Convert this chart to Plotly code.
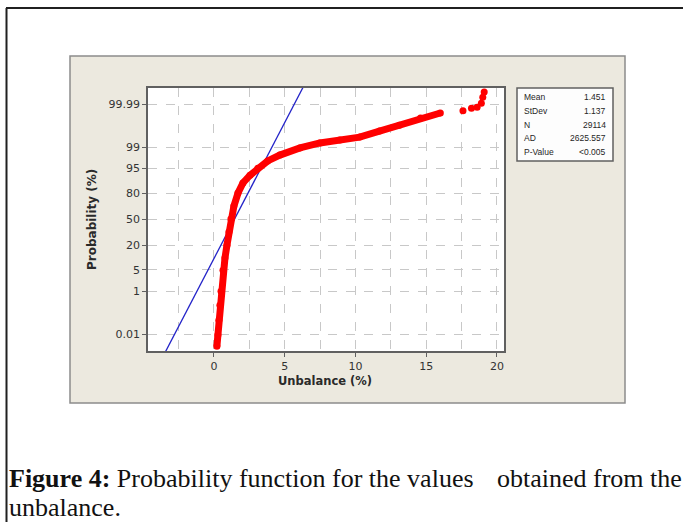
import plotly.graph_objects as go
from statistics import NormalDist

# ---------------- data ----------------
# dense part of the empirical curve: unbalance (%) vs cumulative probability (%)
unbalance_dense = [0.21, 0.28, 0.35, 0.42, 0.50, 0.64, 0.78, 0.92, 1.06, 1.20,
                   1.41, 1.70, 2.05, 2.55, 3.10, 3.80, 4.66, 6.08, 7.49, 8.90,
                   10.3, 11.7, 13.1, 14.6, 16.0]
prob_dense = [0.002, 0.0088, 0.054, 0.27, 0.99, 4.95, 10.4, 20.0, 33.7, 50.0,
              66.3, 80.0, 87.9, 92.2, 95.0, 97.0, 98.08, 98.93, 99.31, 99.48,
              99.60, 99.78, 99.88, 99.946, 99.970]
# isolated upper-tail points
unbalance_tail = [17.6, 18.2, 18.6, 18.9, 19.0, 19.1]
prob_tail = [99.977, 99.983, 99.985, 99.991, 99.996, 99.998]

# fitted normal distribution statistics
stat_labels = ["Mean", "StDev", "N", "AD", "P-Value"]
stat_values = ["1.451", "1.137", "29114", "2625.557", "<0.005"]
fit_mean = 1.451
fit_sd = 1.137

# axis ticks
prob_ticks = [0.01, 1, 5, 20, 50, 80, 95, 99, 99.99]
prob_ticklabels = ["0.01", "1", "5", "20", "50", "80", "95", "99", "99.99"]
x_ticks = [0, 5, 10, 15, 20]

caption_l1a = "<b>Figure 4:</b> Probability function for the values"
caption_l1b = "obtained from the"
caption_l2 = "unbalance."

nd = NormalDist()
def z(p):
    return nd.inv_cdf(p / 100.0)

# ---------------- geometry ----------------
W, H = 683, 522
L, R, T, B = 148, 504, 88, 351          # plot area in pixels
def fx(px):
    return (px - L) / (R - L)
def fy(py):
    return (B - py) / (B - T)

Y_RANGE = [-4.265, 4.24]
X_RANGE = [-4.66, 20.5]

fig = go.Figure()

# fitted line (normal quantile line)
zline = [Y_RANGE[0] - 0.3, Y_RANGE[1] + 0.3]
fig.add_trace(go.Scatter(
    x=[fit_mean + fit_sd * v for v in zline], y=zline, mode="lines",
    line=dict(color="#2323c8", width=1.3), hoverinfo="skip", showlegend=False))

# empirical points
fig.add_trace(go.Scatter(
    x=unbalance_dense, y=[z(p) for p in prob_dense], mode="lines+markers",
    line=dict(color="#ff0000", width=7), marker=dict(color="#ff0000", size=7),
    showlegend=False))
fig.add_trace(go.Scatter(
    x=unbalance_tail, y=[z(p) for p in prob_tail], mode="markers",
    marker=dict(color="#ff0000", size=7), showlegend=False))

shapes = []
# beige panel
shapes.append(dict(type="rect", xref="paper", yref="paper", layer="below",
                   x0=fx(70), x1=fx(625), y0=fy(403), y1=fy(56),
                   fillcolor="#ece9df", line=dict(color="#8c8c8c", width=1.5)))
# white plot area
shapes.append(dict(type="rect", xref="paper", yref="paper", layer="below",
                   x0=0, x1=1, y0=0, y1=1, fillcolor="white", line=dict(width=0)))
# statistics box
shapes.append(dict(type="rect", xref="paper", yref="paper", layer="above",
                   x0=fx(517), x1=fx(613), y0=fy(161), y1=fy(88),
                   fillcolor="#fdfdfd", line=dict(color="#606060", width=1.5)))
# page frame lines
shapes.append(dict(type="line", xref="paper", yref="paper", layer="above",
                   x0=fx(6), x1=fx(683), y0=fy(8), y1=fy(8),
                   line=dict(color="#202020", width=2)))
shapes.append(dict(type="line", xref="paper", yref="paper", layer="above",
                   x0=fx(6.5), x1=fx(6.5), y0=fy(8), y1=fy(522),
                   line=dict(color="#202020", width=2)))

annotations = []
for i, (lab, val) in enumerate(zip(stat_labels, stat_values)):
    ypx = 97 + i * 13.8
    annotations.append(dict(xref="paper", yref="paper", x=fx(522), y=fy(ypx),
                            text=lab, showarrow=False, xanchor="left", yanchor="middle",
                            font=dict(family="Liberation Sans", size=8.5, color="#262626")))
    annotations.append(dict(xref="paper", yref="paper", x=fx(608), y=fy(ypx),
                            text=val, showarrow=False, xanchor="right", yanchor="middle",
                            font=dict(family="Liberation Sans", size=8.5, color="#262626")))

# axis titles
annotations.append(dict(xref="paper", yref="paper", x=fx(325), y=fy(381),
                        text="<b>Unbalance (%)</b>", showarrow=False,
                        xanchor="center", yanchor="middle",
                        font=dict(family="DejaVu Sans", size=11.5, color="#2a2a2a")))
annotations.append(dict(xref="paper", yref="paper", x=fx(92), y=fy(220),
                        text="<b>Probability (%)</b>", showarrow=False, textangle=-90,
                        xanchor="center", yanchor="middle",
                        font=dict(family="DejaVu Sans", size=12, color="#2a2a2a")))

# caption
cap_font = dict(family="Liberation Serif", size=26, color="#111")
annotations.append(dict(xref="paper", yref="paper", x=fx(7), y=fy(478),
                        text=caption_l1a, showarrow=False, xanchor="left",
                        yanchor="middle", font=cap_font))
annotations.append(dict(xref="paper", yref="paper", x=fx(684), y=fy(478),
                        text=caption_l1b, showarrow=False, xanchor="right",
                        yanchor="middle", font=cap_font))
annotations.append(dict(xref="paper", yref="paper", x=fx(7), y=fy(507),
                        text=caption_l2, showarrow=False, xanchor="left",
                        yanchor="middle", font=cap_font))

fig.update_layout(
    width=W, height=H,
    margin=dict(l=L, r=W - R, t=T, b=H - B, pad=0),
    paper_bgcolor="white", plot_bgcolor="white",
    shapes=shapes, annotations=annotations,
    showlegend=False,
)

tick_font = dict(family="DejaVu Sans", size=11, color="#333333")
fig.update_xaxes(
    range=X_RANGE, tickvals=x_ticks, ticktext=[str(v) for v in x_ticks],
    showgrid=True, gridcolor="#c8c8c8", griddash="dash", gridwidth=1,
    minor=dict(dtick=2.5, tick0=0, showgrid=True, gridcolor="#c8c8c8",
               griddash="dash", gridwidth=1),
    zeroline=False, showline=True, mirror=True, linecolor="#606060", linewidth=1.5,
    ticks="outside", ticklen=4, tickcolor="#606060", tickfont=tick_font,
)
fig.update_yaxes(
    range=Y_RANGE, tickvals=[z(p) for p in prob_ticks], ticktext=prob_ticklabels,
    showgrid=True, gridcolor="#c8c8c8", griddash="dash", gridwidth=1,
    zeroline=False, showline=True, mirror=True, linecolor="#606060", linewidth=1.5,
    ticks="outside", ticklen=4, tickcolor="#606060", tickfont=tick_font,
)

fig.write_html("out.html")
